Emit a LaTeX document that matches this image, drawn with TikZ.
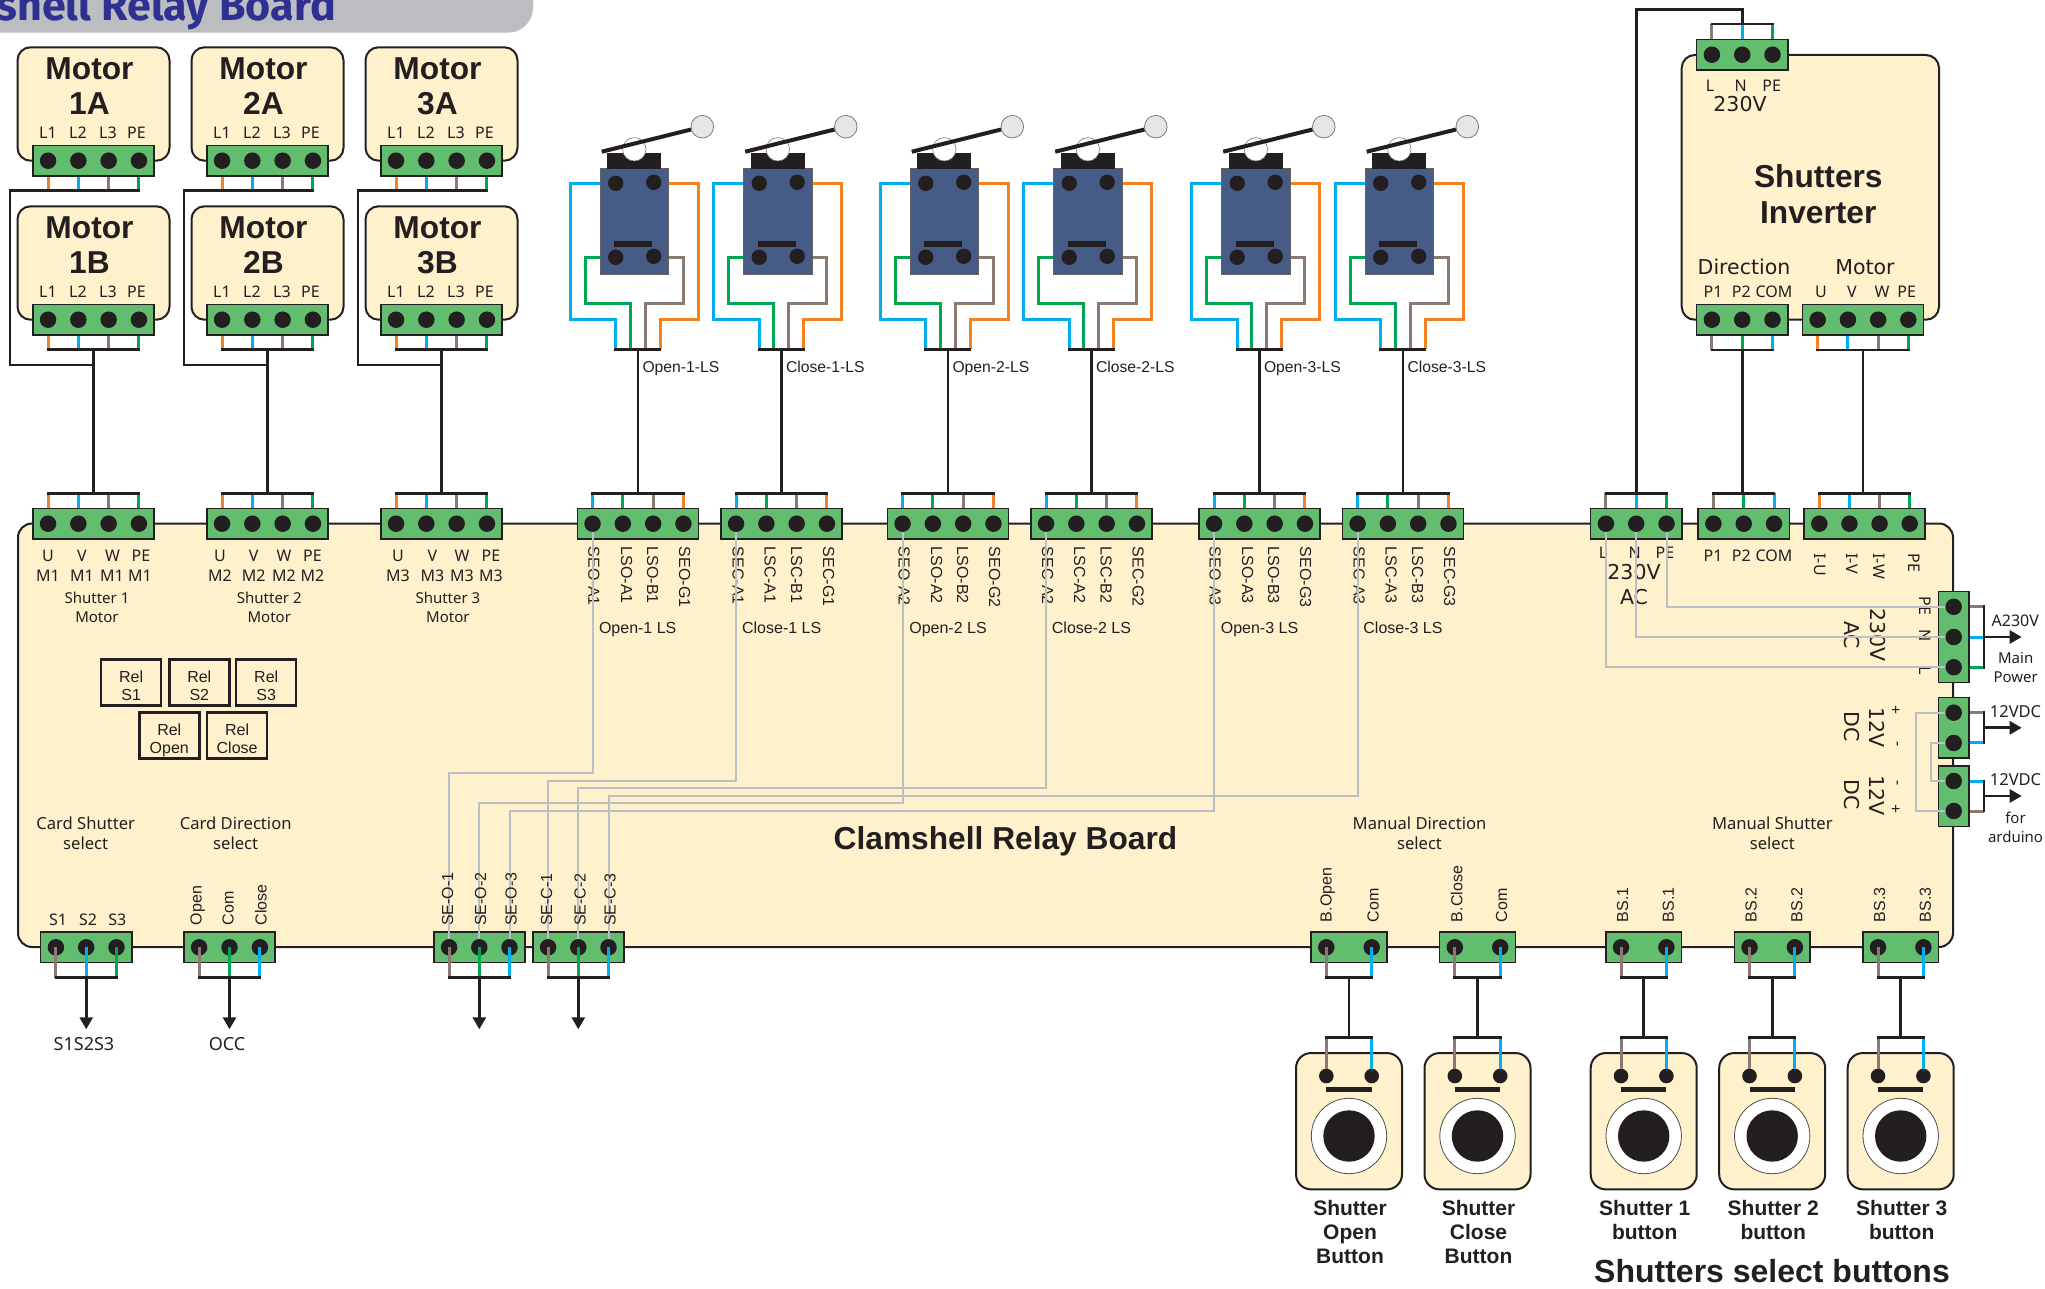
\documentclass[tikz,border=0pt]{standalone}
\usepackage{fontspec}
\setmainfont{Liberation Sans}
\newfontfamily\tahfont{Noto Sans}
\newfontfamily\verfont{DejaVu Sans}
\newfontfamily\ttlfont{Fira Sans}
\usetikzlibrary{arrows.meta}

\definecolor{cream}{HTML}{FFF1CC}
\definecolor{tgreen}{HTML}{62BD6F}
\definecolor{inkdark}{HTML}{231F20}
\definecolor{wo}{HTML}{F58220}
\definecolor{wb}{HTML}{00AEEF}
\definecolor{wr}{HTML}{8A7A72}
\definecolor{wg}{HTML}{00A651}
\definecolor{swblue}{HTML}{465C87}
\definecolor{grayw}{HTML}{BCC0C6}
\definecolor{ttlgray}{HTML}{BBBDC0}
\definecolor{ttlblue}{HTML}{2E3192}

\tikzset{
  tblock/.style = {draw=inkdark, fill=tgreen, line width=1.5pt, inner sep=0pt},
  pinhole/.style = {circle, fill=inkdark, inner sep=0pt, minimum size=16.5pt},
  unitbox/.style = {draw=inkdark, fill=cream, line width=2pt, rounded corners=13pt, inner sep=0pt},
  wire/.style = {line width=3pt},
  busline/.style = {draw=inkdark, line width=2.8pt, line cap=rect},
  graywire/.style = {draw=grayw, line width=2pt},
  arrowline/.style = {draw=inkdark, line width=2.8pt, -{Triangle[length=12pt,width=13pt]}},
  arial/.style = {text=inkdark, inner sep=0pt, font=\fontsize{16}{18}\selectfont},
  tah/.style = {text=inkdark, inner sep=0pt, font=\tahfont\fontsize{16}{18}\selectfont},
  tahtwo/.style = {tah, align=center, font=\tahfont\fontsize{15}{19}\selectfont},
  cardlab/.style = {tah, align=center, font=\tahfont\fontsize{16.6}{20}\selectfont},
  ver/.style = {text=inkdark, inner sep=0pt, align=center, font=\verfont\fontsize{20.5}{26}\selectfont},
  bigbold/.style = {text=inkdark, inner sep=0pt, align=center, font=\bfseries\fontsize{31.7}{35.7}\selectfont},
  btnbold/.style = {text=inkdark, inner sep=0pt, align=center, font=\bfseries\fontsize{21}{24}\selectfont},
  downlab/.style = {arial, rotate=-90, anchor=west},
  uplab/.style = {arial, rotate=90, anchor=west},
  downtah/.style = {tah, rotate=-90},
  relbox/.style = {draw=inkdark, line width=2.5pt, inner sep=0pt, minimum width=60pt, minimum height=46pt},
  reltext/.style = {text=inkdark, inner sep=0pt, align=center, anchor=north, font=\fontsize{16}{17.7}\selectfont},
}

% terminal strips: name, x, y, pitch, pins
\newcommand{\hterm}[5]{
  \pgfmathsetmacro{\tw}{(#5-1)*#4+30.5}
  \node[tblock, minimum width=\tw pt, minimum height=30.5pt] (#1) at (#2,#3) {};
  \foreach \i in {1,...,#5}{
    \pgfmathsetmacro{\px}{#2+(\i-(#5+1)/2)*#4}
    \node[pinhole] (#1-\i) at (\px,#3) {};
  }
}
\newcommand{\vterm}[5]{
  \pgfmathsetmacro{\tw}{(#5-1)*#4+30.5}
  \node[tblock, minimum width=30.5pt, minimum height=\tw pt] (#1) at (#2,#3) {};
  \foreach \i in {1,...,#5}{
    \pgfmathsetmacro{\py}{#3+(\i-(#5+1)/2)*#4}
    \node[pinhole] (#1-\i) at (#2,\py) {};
  }
}
% wires to a bus: strip, edge, offset, pins, colours
\newcommand{\hbus}[5]{
  \path (#1.center) ++(0,#3) coordinate (#1-bus);
  \foreach \wc [count=\i] in {#5}
    \draw[wire, draw=\wc] (#1-\i |- #1.#2) -- (#1-\i |- #1-bus);
  \draw[busline] (#1-1 |- #1-bus) -- (#1-#4 |- #1-bus);
}
\newcommand{\vbus}[4]{
  \path (#1.center) ++(#2,0) coordinate (#1-bus);
  \foreach \wc [count=\i] in {#4}
    \draw[wire, draw=\wc] (#1-\i -| #1.east) -- (#1-\i -| #1-bus);
  \draw[busline] (#1-1 -| #1-bus) -- (#1-#3 -| #1-bus);
}
% row of labels: prefix, style, y, text/x list
\newcommand{\rowlab}[4]{
  \foreach \txt/\lx [count=\k] in {#4}
    \node[#2] (#1-\k) at (\lx,#3) {\txt};
}
\newcommand{\relunit}[4]{
  \node[relbox] (#1) at (#2,#3) {};
  \node[reltext] (#1-txt) at (#2,#3-11.5) {Rel\\#4};
}
\newcommand{\motorunit}[4]{
  \node[unitbox, minimum width=152pt, minimum height=113.4pt] (#1-box) at (#2,#3-56.7) {};
  \hterm{#1}{#2}{#3}{30.3}{4}
  \hbus{#1}{south}{30}{4}{wo,wb,wr,wg}
  \node[bigbold] (#1-txt) at (#2-4,#3-74.5) {Motor\\#4};
  \rowlab{#1-lab}{tah}{#3-28}{L1/#2-45.5,L2/#2-15.5,L3/#2+14.5,PE/#2+43}
}
\newcommand{\limitsw}[3]{
  \begin{scope}[shift={(#2,0)}]
    \node[draw=inkdark!70, fill=swblue, line width=1pt, inner sep=0pt, minimum width=68.4pt, minimum height=105.3pt] (#1-body) at (-3.5,221.65) {};
    \node[fill=inkdark, inner sep=0pt, minimum width=53.7pt, minimum height=16.3pt] (#1-head) at (-3.85,160.85) {};
    \node[circle, draw=inkdark!60, fill=white, line width=.6pt, inner sep=0pt, minimum size=23.4pt] (#1-roll) at (-3.7,149.3) {};
    \coordinate (#1-tip) at (-36.3,151.7);
    \node[circle, draw=inkdark!60, fill=grayw!40, line width=.8pt, inner sep=0pt, minimum size=22.6pt] (#1-knob) at (64.3,126.7) {};
    \draw[draw=inkdark, line width=4pt] (#1-tip) -- (#1-knob);
    \node[pinhole, minimum size=15.4pt] (#1-p1) at (-22.3,183.3) {};
    \node[pinhole, minimum size=15.4pt] (#1-p2) at (15.7,182.3) {};
    \node[pinhole, minimum size=15.4pt] (#1-p3) at (-22.3,257.3) {};
    \node[pinhole, minimum size=15.4pt] (#1-p4) at (15.7,256.3) {};
    \node[fill=inkdark, inner sep=0pt, minimum width=38pt, minimum height=5.4pt] (#1-bar) at (-4.7,244) {};
    \coordinate (#1-bus) at (0,349.3);
    \coordinate (#1-bl) at (-22.3,349.3);
    \coordinate (#1-br) at (22,349.3);
    \coordinate (#1-wb) at (-68,319.3);
    \coordinate (#1-wg) at (-53,304);
    \coordinate (#1-wr) at (45.3,304);
    \coordinate (#1-wo) at (60.3,319.3);
    \coordinate (#1-ig) at (-7.7,349.3);
    \coordinate (#1-ir) at (7,349.3);
    \draw[wire, draw=wb] (#1-body.west |- #1-p1) -| (#1-wb) -| (#1-bl);
    \draw[wire, draw=wg] (#1-body.west |- #1-p3) -| (#1-wg) -| (#1-ig);
    \draw[wire, draw=wr] (#1-body.east |- #1-p3) -| (#1-wr) -| (#1-ir);
    \draw[wire, draw=wo] (#1-body.east |- #1-p1) -| (#1-wo) -| (#1-br);
    \draw[busline] (#1-bl) -- (#1-br);
    \node[arial, anchor=base west, font=\fontsize{15.7}{18}\selectfont] (#1-lab) at (4.3,372.3) {#3};
  \end{scope}
}
\newcommand{\pushbtn}[4]{
  \begin{scope}[shift={(#2,0)}]
    \node[unitbox, rounded corners=15pt, minimum width=106pt, minimum height=136.3pt] (#1-box) at (0,1121.2) {};
    \node[pinhole, minimum size=14.6pt] (#1-a) at (-22.7,1076) {};
    \node[pinhole, minimum size=14.6pt] (#1-b) at (22.7,1076) {};
    \node[fill=inkdark, inner sep=0pt, minimum width=45.4pt, minimum height=5pt] (#1-bar) at (0,1089.8) {};
    \node[circle, draw=inkdark!80, fill=white, line width=.8pt, inner sep=0pt, minimum size=75.4pt] (#1-ring) at (0,1136) {};
    \node[circle, fill=inkdark, inner sep=0pt, minimum size=51.4pt] (#1-cap) at (0,1136) {};
    \coordinate (#1-bus) at (0,1037.7);
    \draw[wire, draw=wr] (#1-a) -- (#1-a |- #1-bus);
    \draw[wire, draw=wb] (#1-b) -- (#1-b |- #1-bus);
    \draw[busline] (#1-a |- #1-bus) -- (#1-b |- #1-bus);
    \node[btnbold] (#1-lab) at (1,#3) {#4};
  \end{scope}
}

\begin{document}
\begin{tikzpicture}[x=1pt, y=-1pt]
\clip (0,0) rectangle (2045,1289);

% title tab
\fill[ttlgray, rounded corners=25pt] (-40,-40) rectangle (533,32.7);
\node[text=ttlblue, inner sep=0pt, anchor=base east, font=\ttlfont\bfseries\fontsize{43}{46}\selectfont] (ttl) at (336,20.7) {shell Relay Board};

% board
\node[unitbox, rounded corners=14pt, minimum width=1935pt, minimum height=423.5pt] (pcb) at (985.5,735.25) {};
\node[inner sep=0pt, text=inkdark, font=\bfseries\fontsize{31.7}{36}\selectfont] (pcbname) at (1005.5,841) {Clamshell Relay Board};

% motors
\motorunit{m1a}{93.5}{160.7}{1A}
\motorunit{m1b}{93.5}{319.7}{1B}
\motorunit{m2a}{267.5}{160.7}{2A}
\motorunit{m2b}{267.5}{319.7}{2B}
\motorunit{m3a}{441.5}{160.7}{3A}
\motorunit{m3b}{441.5}{319.7}{3B}

% board strips, top edge
\hterm{mt1}{93.5}{523.7}{30.3}{4}
\hterm{mt2}{267.5}{523.7}{30.3}{4}
\hterm{mt3}{441.5}{523.7}{30.3}{4}
\hbus{mt1}{north}{-30.4}{4}{wo,wb,wr,wg}
\hbus{mt2}{north}{-30.4}{4}{wo,wb,wr,wg}
\hbus{mt3}{north}{-30.4}{4}{wo,wb,wr,wg}

\foreach \m/\st in {1/mt1,2/mt2,3/mt3}{
  \coordinate (m\m-turn) at ([yshift=-174.3pt,xshift=-83.5pt]m\m a-bus);
  \draw[busline] (m\m a-bus) -- (m\m a-bus -| m\m-turn) -- (m\m-turn) -| (m\m b-bus);
  \draw[busline] (m\m b-bus) -- (\st-bus);
}

\rowlab{u1}{tah}{555.7}{U/48,V/82,W/112.5,PE/141}
\rowlab{m1}{tah}{575.7}{M1/48,M1/82,M1/112,M1/140}
\rowlab{u2}{tah}{555.7}{U/220,V/253.6,W/284,PE/312.5}
\rowlab{m2}{tah}{575.7}{M2/220,M2/253.6,M2/284,M2/312.5}
\rowlab{u3}{tah}{555.7}{U/398,V/432.5,W/462,PE/491}
\rowlab{m3}{tah}{575.7}{M3/398,M3/432.5,M3/462,M3/491}
\node[tahtwo] (sm1) at (97,607.7) {Shutter 1\\Motor};
\node[tahtwo] (sm2) at (269.3,607.7) {Shutter 2\\Motor};
\node[tahtwo] (sm3) at (447.9,607.7) {Shutter 3\\Motor};

% relays
\relunit{rs1}{131.2}{682.5}{S1}
\relunit{rs2}{199.3}{682.5}{S2}
\relunit{rs3}{266.2}{682.5}{S3}
\relunit{ro}{169.3}{735.5}{Open}
\relunit{rc}{237.1}{735.5}{Close}

% limit switches
\limitsw{ls1}{638}{Open-1-LS}
\limitsw{ls2}{781.5}{Close-1-LS}
\limitsw{ls3}{948}{Open-2-LS}
\limitsw{ls4}{1091.5}{Close-2-LS}
\limitsw{ls5}{1259.5}{Open-3-LS}
\limitsw{ls6}{1403}{Close-3-LS}

\foreach \n/\cx in {1/638,2/781.5,3/948,4/1091.5,5/1259.5,6/1403}{
  \hterm{lb\n}{\cx}{523.7}{30.3}{4}
  \hbus{lb\n}{north}{-30.4}{4}{wb,wg,wr,wo}
  \draw[busline] (ls\n-bus) -- (lb\n-bus);
}

\rowlab{a1}{downlab}{546.7}{SEO-A1/594,LSO-A1/626.7,LSO-B1/652.7,SEO-G1/684.7}
\rowlab{a2}{downlab}{546.7}{SEC-A1/738,LSC-A1/770,LSC-B1/796.5,SEC-G1/828.5}
\rowlab{a3}{downlab}{546.7}{SEO-A2/904,LSO-A2/936.7,LSO-B2/962.7,SEO-G2/994.7}
\rowlab{a4}{downlab}{546.7}{SEC-A2/1047.5,LSC-A2/1079.5,LSC-B2/1106,SEC-G2/1138}
\rowlab{a5}{downlab}{546.7}{SEO-A3/1215,LSO-A3/1247.7,LSO-B3/1273.7,SEO-G3/1305.7}
\rowlab{a6}{downlab}{546.7}{SEC-A3/1359,LSC-A3/1391,LSC-B3/1417.5,SEC-G3/1449.5}
\rowlab{gr}{arial, anchor=base}{633.6}{Open-1 LS/637.7,Close-1 LS/781.7,Open-2 LS/948,Close-2 LS/1091.5,Open-3 LS/1259.5,Close-3 LS/1403}

% inverter
\node[unitbox, minimum width=257.3pt, minimum height=264.7pt] (inv) at (1810.35,187.35) {};
\hterm{invl}{1742.2}{54.7}{30.3}{3}
\hbus{invl}{north}{-30.7}{3}{wr,wb,wg}
\hterm{invd}{1742.2}{319.7}{30.3}{3}
\hbus{invd}{south}{30.3}{3}{wr,wg,wb}
\hterm{invm}{1863}{319.7}{30.2}{4}
\hbus{invm}{south}{30.3}{4}{wo,wb,wr,wg}
\node[bigbold] (invname) at (1818.3,194) {Shutters\\Inverter};
\rowlab{il}{tah}{85.7}{L/1710,N/1740.7,PE/1771.7}
\node[ver] (v230) at (1740,104.3) {230V};
\node[ver] (dirl) at (1744,267.3) {Direction};
\node[ver] (motl) at (1865,266.7) {Motor};
\rowlab{idl}{tah}{291.7}{P1/1713,P2/1741.3,COM/1774,U/1821,V/1852,W/1882,PE/1906.7}

% board strips, right of top edge
\hterm{acb}{1636.2}{523.7}{30.3}{3}
\hbus{acb}{north}{-30.4}{3}{wr,wb,wg}
\hterm{pb}{1743.7}{523.7}{30.3}{3}
\hbus{pb}{north}{-30.4}{3}{wr,wg,wb}
\hterm{mb}{1864.5}{523.7}{30.1}{4}
\hbus{mb}{north}{-30.4}{4}{wo,wb,wr,wg}

\coordinate (turnac) at (1700,9.3);
\draw[busline] (invl-bus) |- (turnac) -| (acb-bus);
\draw[busline] (invd-bus) -- (invd-bus |- pb-bus);
\draw[busline] (invm-bus) -- (invm-bus |- mb-bus);

\rowlab{acl}{tah}{552.3}{L/1603,N/1634.7,PE/1665}
\node[ver, font=\verfont\fontsize{20.5}{25.6}\selectfont] (ac230) at (1634,584.5) {230V\\AC};
\rowlab{pl}{tah}{555.3}{P1/1713,P2/1741.3,COM/1774}
\foreach \txt/\lx [count=\k] in {I-U/1820.3,I-V/1851.7,I-W/1879.3,PE/1914}
  \node[downtah, anchor=west] (iw-\k) at (\lx,553.3) {\txt};

% power strips, right edge
\vterm{vac}{1953.7}{637}{30.2}{3}
\vbus{vac}{30.3}{3}{wr,wb,wg}
\vterm{vdca}{1953.7}{727.8}{30.3}{2}
\vbus{vdca}{30.3}{2}{wr,wb}
\vterm{vdcb}{1953.7}{796}{30}{2}
\vbus{vdcb}{30.3}{2}{wb,wr}
\coordinate (vacend) at (2021.7,637);
\coordinate (vdcaend) at (2021.7,727.8);
\coordinate (vdcbend) at (2021.7,796);
\draw[arrowline] (vac-bus) -- (vacend);
\draw[arrowline] (vdca-bus) -- (vdcaend);
\draw[arrowline] (vdcb-bus) -- (vdcbend);

\node[tah] (lab230) at (2015.3,620.7) {A230V};
\node[tahtwo] (labmain) at (2015.7,667.7) {Main\\Power};
\node[tah, font=\tahfont\fontsize{16.5}{18}\selectfont] (lab12a) at (2015.5,711.3) {12VDC};
\node[tah, font=\tahfont\fontsize{16.5}{18}\selectfont] (lab12b) at (2015.5,779.3) {12VDC};
\node[tahtwo] (labard) at (2015.5,827) {for\\arduino};

\node[ver, rotate=-90] (r230) at (1878.3,635) {230V};
\node[ver, rotate=-90] (rac) at (1852,635) {AC};
\node[ver, rotate=-90] (r12a) at (1876.7,727.3) {12V};
\node[ver, rotate=-90] (rdca) at (1852,726.7) {DC};
\node[ver, rotate=-90] (r12b) at (1876.7,795.3) {12V};
\node[ver, rotate=-90] (rdcb) at (1852,795) {DC};
\node[downtah] (rpe) at (1925,605.7) {PE};
\node[downtah] (rn) at (1925,635.7) {N};
\node[downtah] (rl) at (1925,671) {L};
\node[downtah] (rp1) at (1895.7,710) {+};
\node[downtah] (rm1) at (1895.7,744.3) {-};
\node[downtah] (rm2) at (1895.7,783.3) {-};
\node[downtah] (rp2) at (1895.7,809.3) {+};

\draw[graywire] (acb-3) |- (vac-1);
\draw[graywire] (acb-2) |- (vac-2);
\draw[graywire] (acb-1) |- (vac-3);
\coordinate (g12a) at (1916,760);
\coordinate (g12b) at (1931.3,760);
\draw[graywire] (vdca-1) -| (g12a) |- (vdcb-2);
\draw[graywire] (vdca-2) -| (g12b) |- (vdcb-1);

% bottom edge strips
\hterm{sel}{86.2}{947.3}{30.3}{3}
\hterm{dirs}{229.5}{947.3}{30.4}{3}
\hterm{seo}{479.3}{947.3}{30.2}{3}
\hterm{sec}{578.3}{947.3}{30.2}{3}

\coordinate (gs1) at (500,773.3);
\coordinate (gs2) at (600,780.7);
\coordinate (gs3) at (700,788.3);
\coordinate (gs4) at (700,796);
\coordinate (gs5) at (700,803.3);
\coordinate (gs6) at (700,811);
\draw[graywire] (seo-1) |- (gs1) -| (lb1-1);
\draw[graywire] (sec-1) |- (gs2) -| (lb2-1);
\draw[graywire] (sec-2) |- (gs3) -| (lb4-1);
\draw[graywire] (sec-3) |- (gs4) -| (lb6-1);
\draw[graywire] (seo-2) |- (gs5) -| (lb3-1);
\draw[graywire] (seo-3) |- (gs6) -| (lb5-1);

\hbus{sel}{center}{30.4}{3}{wr,wb,wg}
\hbus{dirs}{center}{30.4}{3}{wr,wg,wb}
\hbus{seo}{center}{30.4}{3}{wr,wg,wb}
\hbus{sec}{center}{30.4}{3}{wr,wg,wb}

\coordinate (selend) at (86.2,1029.3);
\coordinate (dirsend) at (229.5,1029.3);
\coordinate (seoend) at (479.3,1029.3);
\coordinate (secend) at (578.3,1029.3);
\draw[arrowline] (sel-bus) -- (selend);
\draw[arrowline] (dirs-bus) -- (dirsend);
\draw[arrowline] (seo-bus) -- (seoend);
\draw[arrowline] (sec-bus) -- (secend);

\node[tah, font=\tahfont\fontsize{18}{20}\selectfont] (ls123) at (84,1044.3) {S1S2S3};
\node[tah, font=\tahfont\fontsize{18}{20}\selectfont] (locc) at (227,1044.3) {OCC};
\node[cardlab] (cshut) at (85.7,833.3) {Card Shutter\\select};
\node[cardlab] (cdir) at (235.7,833.3) {Card Direction\\select};
\rowlab{sl}{tah}{919.3}{S1/58,S2/88,S3/117.4}
\rowlab{dl}{uplab}{925.3}{Open/197.8,Com/228,Close/261}
\rowlab{sol}{uplab}{926}{SE-O-1/447.7,SE-O-2/480.7,SE-O-3/511,SE-C-1/546.7,SE-C-2/580,SE-C-3/610}

% buttons
\node[cardlab] (mandir) at (1419.5,833.3) {Manual Direction\\select};
\node[cardlab] (manshut) at (1772.3,833.3) {Manual Shutter\\select};
\pushbtn{b1}{1349}{1231.8}{Shutter\\Open\\Button}
\pushbtn{b2}{1477.5}{1231.8}{Shutter\\Close\\Button}
\pushbtn{b3}{1643.7}{1219.5}{Shutter 1\\button}
\pushbtn{b4}{1772.2}{1219.5}{Shutter 2\\button}
\pushbtn{b5}{1900.7}{1219.5}{Shutter 3\\button}
\foreach \n/\cx in {1/1349,2/1477.5,3/1643.7,4/1772.2,5/1900.7}{
  \hterm{bt\n}{\cx}{947.3}{45.4}{2}
  \hbus{bt\n}{center}{30}{2}{wr,wb}
  \draw[busline] (bt\n-bus) -- (b\n-bus);
}
\rowlab{bl1}{uplab}{922.3}{B.Open/1327.7,Com/1373,B.Close/1456.7,Com/1501.7}
\rowlab{bl2}{uplab}{922.3}{BS.1/1622.7,BS.1/1668.3,BS.2/1751.2,BS.2/1796.8,BS.3/1879.7,BS.3/1925.3}
\node[inner sep=0pt, text=inkdark, font=\bfseries\fontsize{32}{36}\selectfont] (btnsname) at (1772,1271.5) {Shutters select buttons};
\end{tikzpicture}
\end{document}
